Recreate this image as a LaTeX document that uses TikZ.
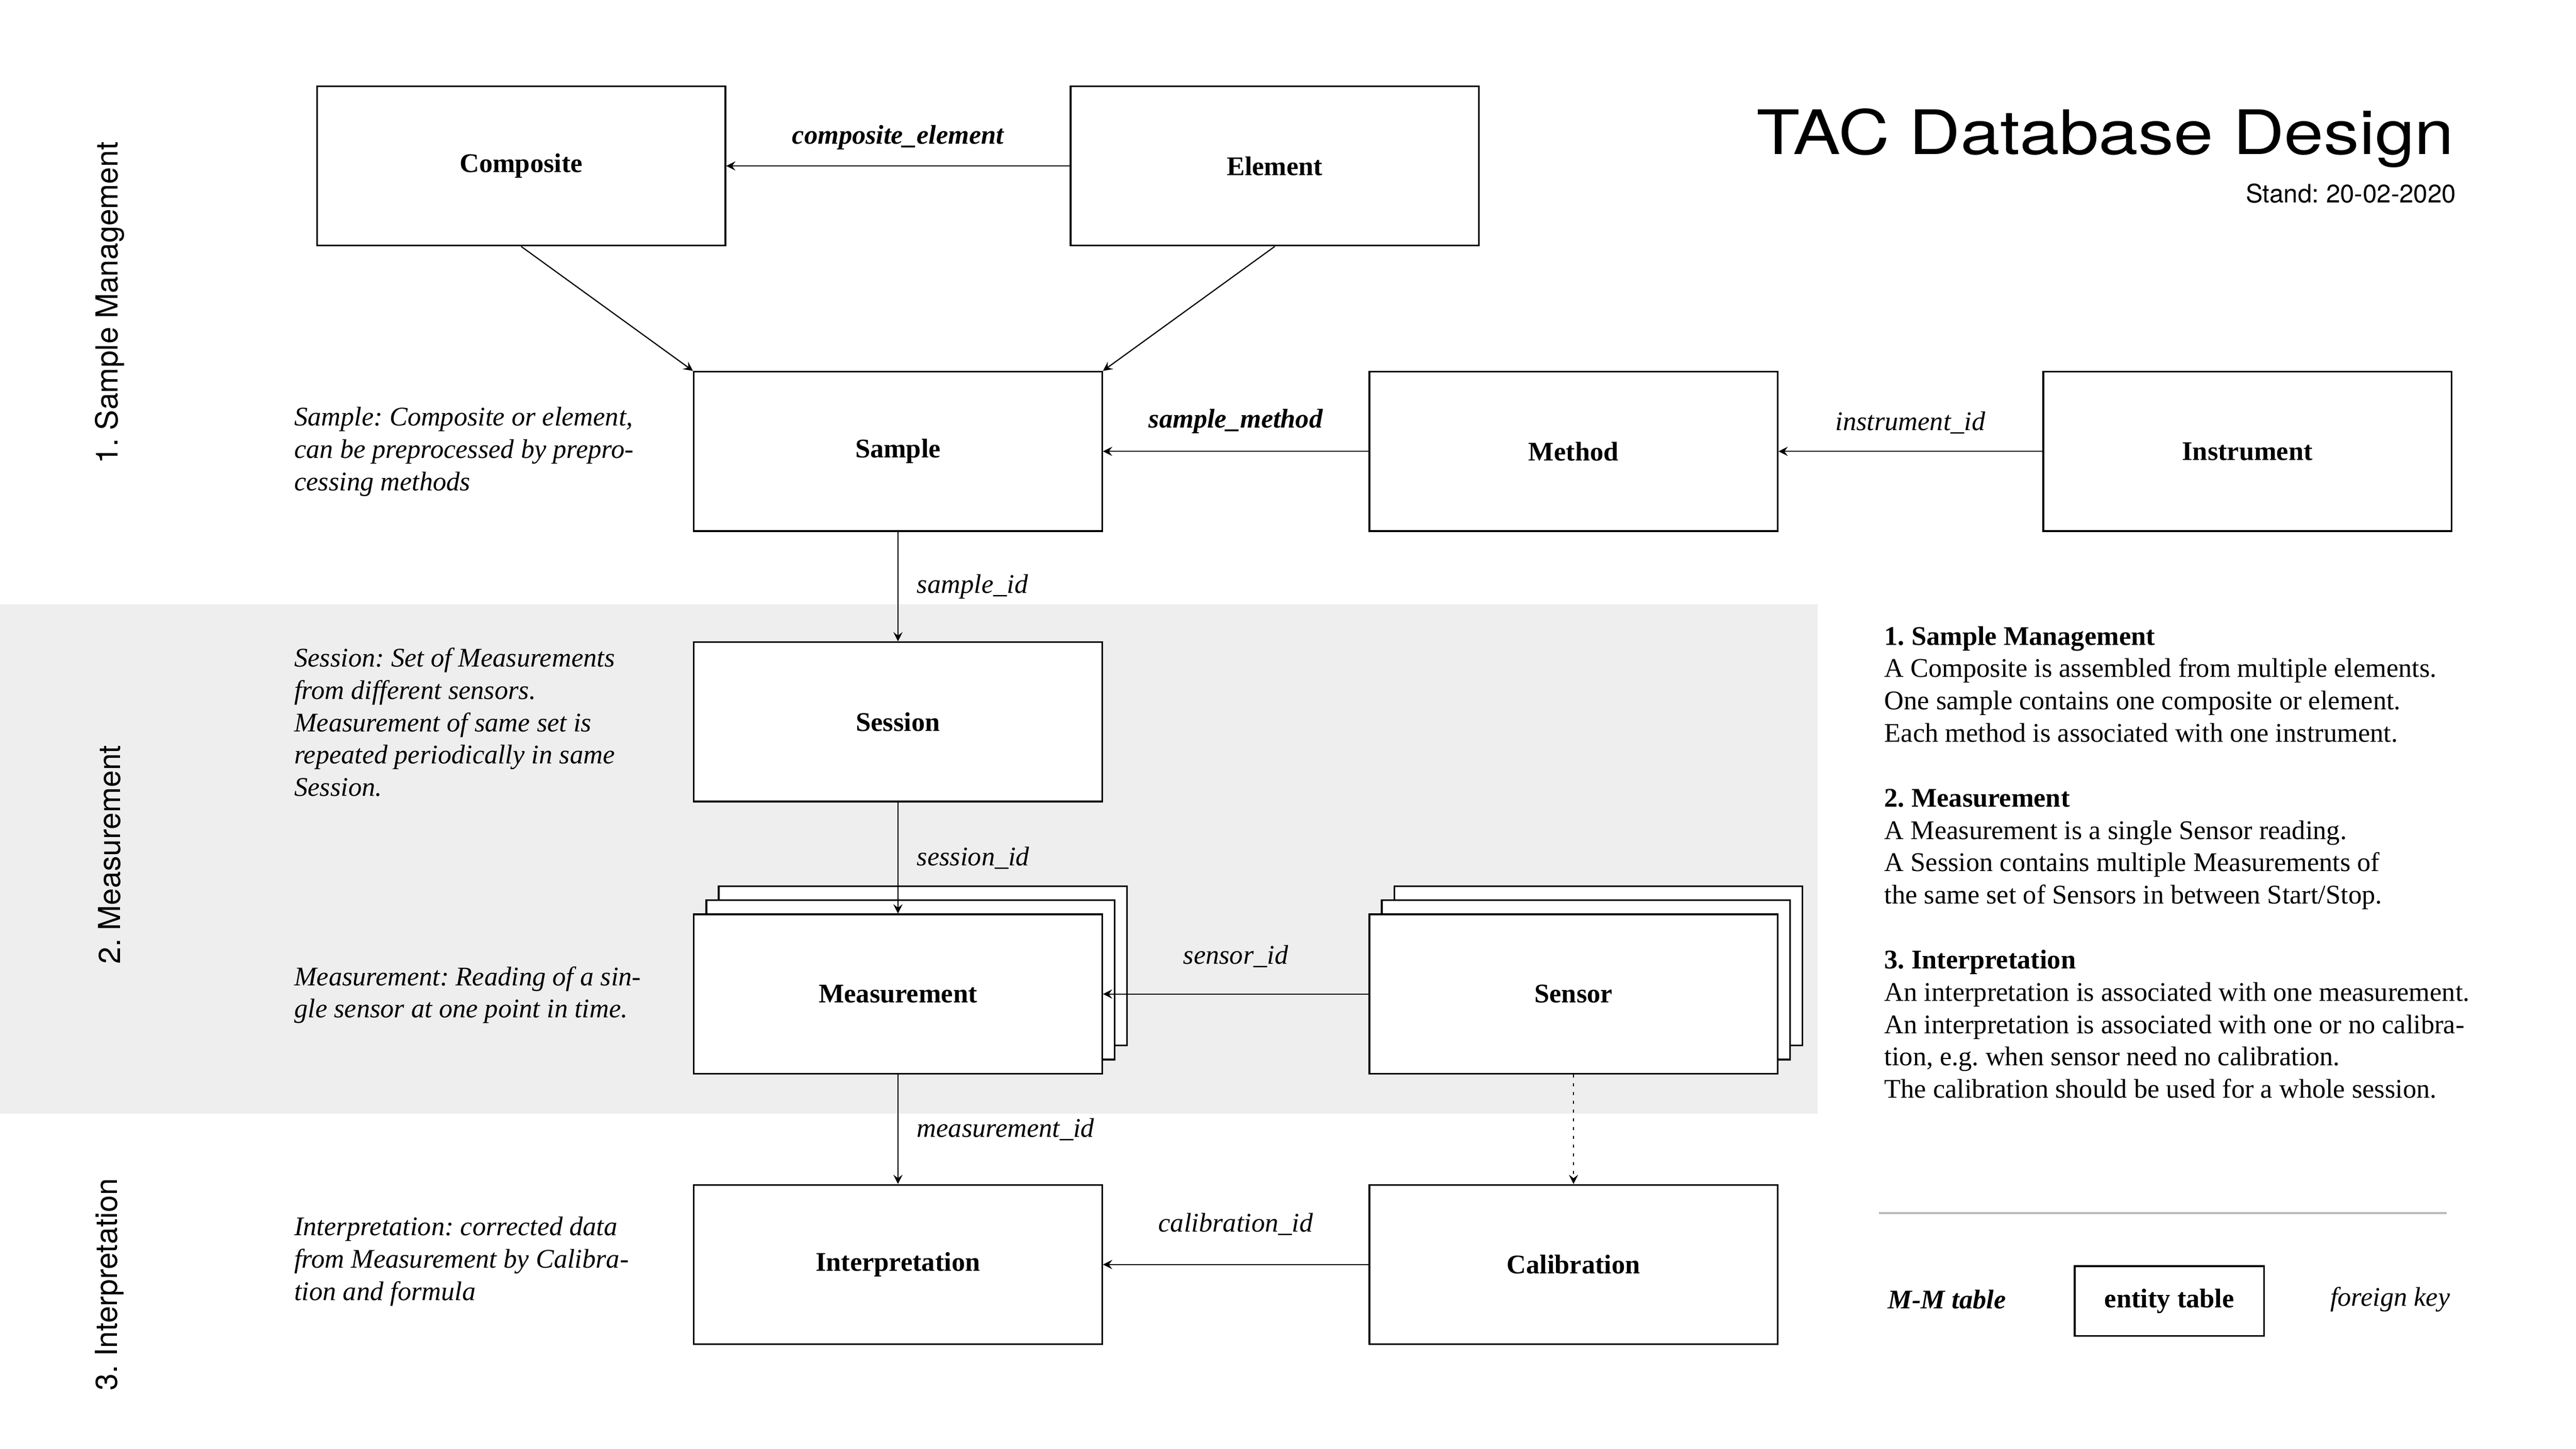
\documentclass[tikz,border=0pt]{standalone}
\usepackage{fontspec}
\setmainfont{Liberation Serif}
\newfontfamily\headfont{TeX Gyre Heros}
\newfontfamily\titlefont[FakeStretch=1.16]{TeX Gyre Heros}
\usepackage{tikz}
\usetikzlibrary{arrows,shapes,positioning,shadows}
\usepackage{xcolor}
\definecolor{bandgray}{RGB}{239,238,239}
\definecolor{rulegray}{RGB}{185,185,185}
\newcommand{\bodysize}{\fontsize{9.25}{11.1}\selectfont}
\frenchspacing
\tikzstyle{entity} = [rectangle, minimum width=4.92cm, minimum height=1.92cm, text centered, draw=black, fill=white, line width=0.6pt, font=\bodysize\bfseries]
\tikzstyle{stacked} = [double copy shadow={shadow xshift=0.15cm, shadow yshift=0.17cm}]
\tikzstyle{arrow} = [line width=0.4pt,->,>=stealth]
\tikzstyle{fkey} = [font=\bodysize\itshape]
\tikzstyle{mmkey} = [font=\bodysize\bfseries\itshape]
\tikzstyle{remark} = [align=left, anchor=north west, inner sep=0pt, font=\bodysize\itshape]
\tikzstyle{section} = [rotate=90, font=\headfont\fontsize{10.4}{12}\selectfont]

\begin{document}
\begin{tikzpicture}
\useasboundingbox (0,0) rectangle (31.04,17.46);
\fill[bandgray] (0,4.04) rectangle (21.9,10.18);

% sections
\node[section] (secsample) at (1.32,13.81) {1. Sample Management};
\node[section] (secmeas) at (1.32,7.16) {2. Measurement};
\node[section] (secinterp) at (1.32,1.98) {3. Interpretation};

% title
\node[anchor=base east, inner sep=0pt, font=\titlefont\fontsize{21}{25}\selectfont] (title) at (29.58,15.6) {TAC Database Design};
\node[anchor=base east, inner sep=0pt, font=\headfont\fontsize{8.7}{10}\selectfont] (stand) at (29.6,15.02) {Stand: 20-02-2020};

% tables
\node[entity] (composite) at (6.28,15.46) {Composite};
\node[entity] (element) at (15.36,15.46) {Element};
\node[entity] (sample) at (10.82,12.02) {Sample};
\node[entity] (method) at (18.96,12.02) {Method};
\node[entity] (instrument) at (27.08,12.02) {Instrument};
\node[entity] (session) at (10.82,8.76) {Session};
\node[entity, stacked] (measurement) at (10.82,5.48) {Measurement};
\node[entity, stacked] (sensor) at (18.96,5.48) {Sensor};
\node[entity] (interpretation) at (10.82,2.22) {Interpretation};
\node[entity] (calibration) at (18.96,2.22) {Calibration};

% keys
\draw[arrow] (element) -- node[mmkey, above=2pt] (lcompel) {composite\_element} (composite);
\draw[arrow] (composite.south) -- (sample.north west);
\draw[arrow] (element.south) -- (sample.north east);
\draw[arrow] (method) -- node[mmkey, above=2.5pt] (lsampmeth) {sample\_method} (sample);
\draw[arrow] (instrument) -- node[fkey, above=2.5pt] (linstr) {instrument\_id} (method);
\draw[arrow] (sample) -- node[fkey, right=3pt] (lsamp) {sample\_id} (session);
\draw[arrow] (session) -- node[fkey, right=3pt] (lsess) {session\_id} (measurement);
\draw[arrow] (sensor) -- node[fkey, above=5.5pt] (lsens) {sensor\_id} (measurement);
\draw[arrow] (measurement) -- node[fkey, right=3pt] (lmeas) {measurement\_id} (interpretation);
\draw[arrow, dash pattern=on 1pt off 2pt] (sensor) -- (calibration);
\draw[arrow] (calibration) -- node[fkey, above=6.5pt] (lcalib) {calibration\_id} (interpretation);

% remarks
\node[remark] (rsample) at (3.54,12.56) {Sample: Composite or element,\\can be preprocessed by prepro-\\cessing methods};
\node[remark] (rsession) at (3.54,9.66) {Session: Set of Measurements\\from different sensors.\\Measurement of same set is\\repeated periodically in same\\Session.};
\node[remark] (rmeas) at (3.54,5.82) {Measurement: Reading of a sin-\\gle sensor at one point in time.};
\node[remark] (rinterp) at (3.54,2.80) {Interpretation: corrected data\\from Measurement by Calibra-\\tion and formula};

\node[remark, font=\bodysize] (summary) at (22.7,9.92) {\textbf{1. Sample Management}\\
A Composite is assembled from multiple elements.\\
One sample contains one composite or element.\\
Each method is associated with one instrument.\\[11.1pt]
\textbf{2. Measurement}\\
A Measurement is a single Sensor reading.\\
A Session contains multiple Measurements of\\
the same set of Sensors in between Start/Stop.\\[11.1pt]
\textbf{3. Interpretation}\\
An interpretation is associated with one measurement.\\
An interpretation is associated with one or no calibra-\\
tion, e.g. when sensor need no calibration.\\
The calibration should be used for a whole session.};

% legend
\draw[rulegray, line width=0.6pt] (22.64,2.84) -- (29.48,2.84);
\node[mmkey] (legmm) at (23.46,1.80) {M-M table};
\node[entity, minimum width=2.28cm, minimum height=0.84cm] (legent) at (26.14,1.78) {entity table};
\node[fkey] (legfk) at (28.8,1.80) {foreign key};
\end{tikzpicture}
\end{document}
